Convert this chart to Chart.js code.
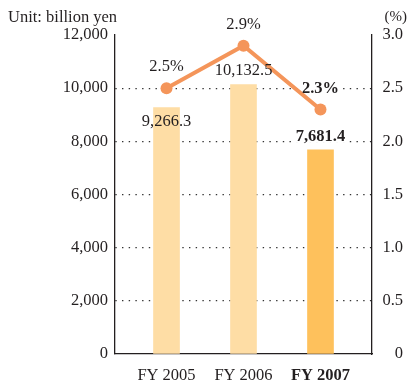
<!DOCTYPE html>
<html>
<head>
<meta charset="utf-8">
<script src="https://cdn.jsdelivr.net/npm/chart.js@4.4.0/dist/chart.umd.min.js"></script>
<style>
  html, body { margin: 0; padding: 0; background: #fff; }
</style>
</head>
<body>
<canvas id="grafico" width="407" height="383"></canvas>
<script>
var categorias = ['FY 2005', 'FY 2006', 'FY 2007'];
var ventas = [9266.3, 10132.5, 7681.4];      // billion yen
var participacion = [2.5, 2.9, 2.3];        // %
var ticksYen = [0, 2000, 4000, 6000, 8000, 10000, 12000];
var ticksPct = [0, 0.5, 1.0, 1.5, 2.0, 2.5, 3.0];

var tinta = '#231f20';
var fuente = '"Liberation Serif", "Times New Roman", serif';
var coloresBarra = ['#fedda5', '#fedda5', '#fec15c'];
var colorLinea = '#f4955a';
// vertical shift of the value labels from the top of each mark
var corrBarra = [14, -14, -13];
var corrPunto = -21;

function miles(v, dec) {
    var s = v.toFixed(dec);
    var p = s.split('.');
    p[0] = p[0].replace(/\B(?=(\d{3})+(?!\d))/g, ',');
    return p.join('.');
}

function listaEtiquetas(chart) {
    var lista = [];
    var barras = chart.getDatasetMeta(0).data;
    var puntos = chart.getDatasetMeta(1).data;
    barras.forEach(function(el, i) {
        lista.push({ text: miles(ventas[i], 1), x: el.x, y: el.y + corrBarra[i], bold: i === 2, fondo: corrBarra[i] < 0 });
    });
    puntos.forEach(function(el, i) {
        lista.push({ text: participacion[i].toFixed(1) + '%', x: el.x, y: el.y + corrPunto, bold: i === 2, fondo: true });
    });
    return lista;
}

/* value labels: white patch under the text to break the dotted lines, text on top */
var etiquetas = {
    id: 'etiquetas',
    beforeDatasetsDraw: function(chart) {
        var ctx = chart.ctx;
        ctx.save();
        listaEtiquetas(chart).forEach(function(e) {
            if (!e.fondo) return;
            ctx.font = (e.bold ? 'bold ' : '') + '16.5px ' + fuente;
            var w = ctx.measureText(e.text).width;
            ctx.fillStyle = '#fff';
            ctx.fillRect(e.x - w / 2 - 3, e.y - 6, w + 6, 12);
        });
        ctx.restore();
    },
    afterDatasetsDraw: function(chart) {
        var ctx = chart.ctx;
        ctx.save();
        ctx.fillStyle = tinta;
        ctx.textAlign = 'center';
        ctx.textBaseline = 'middle';
        listaEtiquetas(chart).forEach(function(e) {
            ctx.font = (e.bold ? 'bold ' : '') + '16.5px ' + fuente;
            ctx.fillText(e.text, e.x, e.y);
        });
        ctx.restore();
    }
};

var unidades = {
    id: 'unidades',
    afterDraw: function(chart) {
        var ctx = chart.ctx;
        ctx.save();
        ctx.fillStyle = tinta;
        ctx.font = '16.5px ' + fuente;
        ctx.textBaseline = 'middle';
        ctx.textAlign = 'left';
        ctx.fillText('Unit: billion yen', 8, 18);
        ctx.textAlign = 'right';
        ctx.font = '15px ' + fuente;
        ctx.fillText('(%)', 407, 17);
        ctx.restore();
    }
};

var ctxGrafico = document.getElementById('grafico');

var grafico = new Chart(ctxGrafico, {
    type: 'bar',
    data: {
        datasets: [{
            type: 'bar',
            label: 'Sales',
            data: ventas.map(function(v, i) { return { x: i, y: v }; }),
            backgroundColor: coloresBarra,
            borderWidth: 0,
            barThickness: 26,
            yAxisID: 'y',
            order: 2
        }, {
            type: 'line',
            label: 'Share',
            data: participacion.map(function(v, i) { return { x: i, y: v }; }),
            borderColor: colorLinea,
            backgroundColor: colorLinea,
            borderWidth: 4,
            pointRadius: 6,
            pointBorderWidth: 0,
            pointBackgroundColor: colorLinea,
            yAxisID: 'y1',
            order: 1
        }]
    },
    options: {
        responsive: false,
        animation: false,
        layout: { padding: { top: 35, right: 4, bottom: 0, left: 0 } },
        plugins: {
            legend: { display: false },
            tooltip: { enabled: false }
        },
        scales: {
            x: {
                type: 'linear',
                offset: false,
                min: -0.669,
                max: 2.669,
                afterBuildTicks: function(scale) {
                    scale.ticks = categorias.map(function(c, i) { return { value: i }; });
                },
                afterFit: function(scale) { scale.height = 29; },
                grid: { display: false, drawTicks: false },
                border: { display: true, color: tinta, width: 1.3 },
                ticks: {
                    padding: 12,
                    color: tinta,
                    maxRotation: 0,
                    autoSkip: false,
                    callback: function(v) { return categorias[v]; },
                    font: function(c) {
                        return { family: fuente, size: 16.5, weight: c.index === 2 ? 'bold' : 'normal' };
                    }
                }
            },
            y: {
                position: 'left',
                min: 0,
                max: 12000,
                afterBuildTicks: function(scale) {
                    scale.ticks = ticksYen.map(function(v) { return { value: v }; });
                },
                afterFit: function(scale) { scale.width = 115; },
                grid: {
                    drawTicks: false,
                    lineWidth: 1.3,
                    color: function(c) {
                        var v = c.tick ? c.tick.value : 0;
                        return (v === 0 || v === 12000) ? 'rgba(0,0,0,0)' : '#333';
                    }
                },
                border: { display: true, color: tinta, width: 1.3, dash: [1.4, 5.3] },
                ticks: {
                    padding: 7,
                    color: tinta,
                    font: { family: fuente, size: 16.5 },
                    callback: function(v) { return miles(v, 0); }
                }
            },
            y1: {
                position: 'right',
                min: 0,
                max: 3,
                afterBuildTicks: function(scale) {
                    scale.ticks = ticksPct.map(function(v) { return { value: v }; });
                },
                afterFit: function(scale) { scale.width = 31; },
                grid: { display: false, drawTicks: false },
                border: { display: true, color: tinta, width: 1.3 },
                ticks: {
                    crossAlign: 'far',
                    color: tinta,
                    font: { family: fuente, size: 16.5 },
                    callback: function(v) { return v === 0 ? '0' : v.toFixed(1); }
                }
            }
        }
    },
    plugins: [etiquetas, unidades]
});
</script>
</body>
</html>
